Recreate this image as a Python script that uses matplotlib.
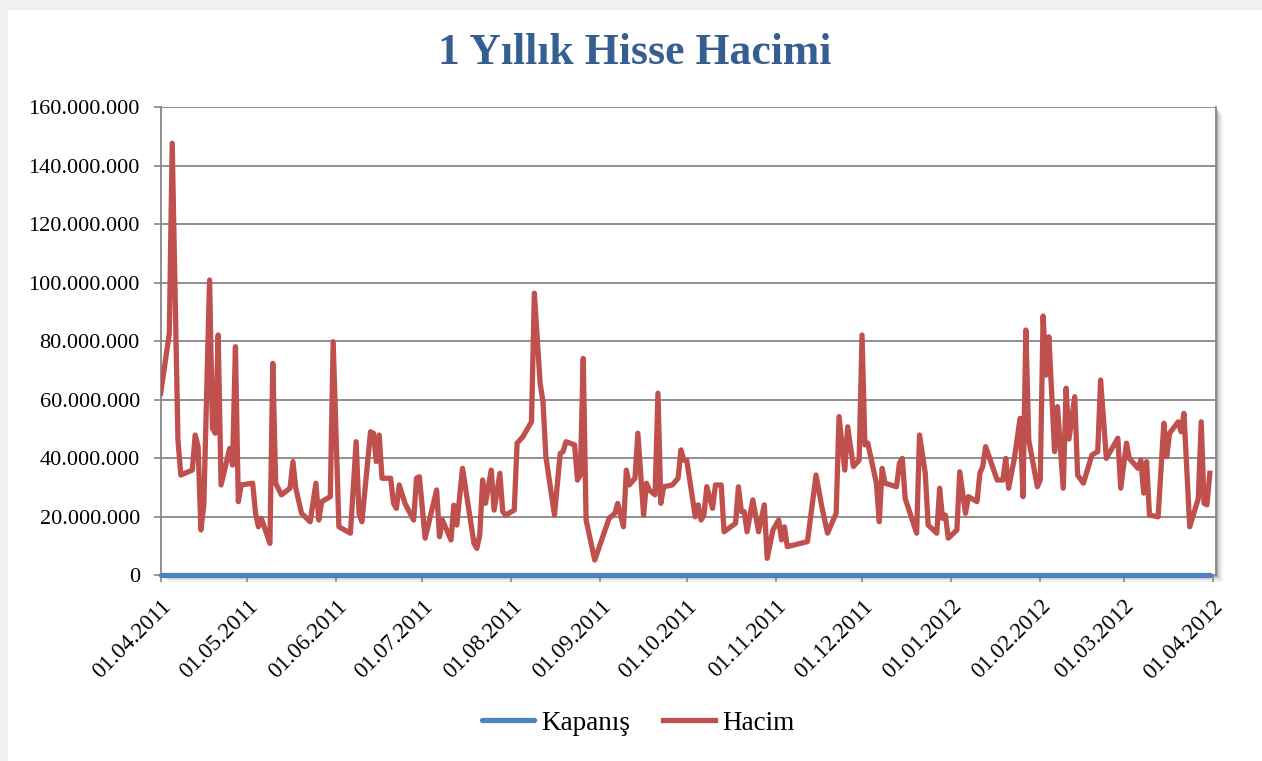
import numpy as np
import pandas as pd
import matplotlib
matplotlib.use('Agg')
import matplotlib.pyplot as plt
import matplotlib.dates as mdates
import matplotlib.ticker as mticker
from matplotlib.patches import Rectangle

# Hacim (milyon adet)
tarih = ['2011-04-01', '2011-04-04', '2011-04-05', '2011-04-07', '2011-04-08', '2011-04-12', '2011-04-13',
         '2011-04-14', '2011-04-15', '2011-04-16', '2011-04-18', '2011-04-19', '2011-04-20', '2011-04-21',
         '2011-04-22', '2011-04-25', '2011-04-26', '2011-04-27', '2011-04-28', '2011-04-29', '2011-05-03',
         '2011-05-04', '2011-05-05', '2011-05-06', '2011-05-09', '2011-05-10', '2011-05-11', '2011-05-13',
         '2011-05-16', '2011-05-17', '2011-05-18', '2011-05-20', '2011-05-23', '2011-05-25', '2011-05-26',
         '2011-05-27', '2011-05-30', '2011-05-31', '2011-06-02', '2011-06-06', '2011-06-08', '2011-06-09',
         '2011-06-10', '2011-06-13', '2011-06-14', '2011-06-15', '2011-06-16', '2011-06-17', '2011-06-20',
         '2011-06-21', '2011-06-22', '2011-06-23', '2011-06-25', '2011-06-28', '2011-06-29', '2011-06-30',
         '2011-07-02', '2011-07-06', '2011-07-07', '2011-07-08', '2011-07-11', '2011-07-12', '2011-07-13',
         '2011-07-15', '2011-07-19', '2011-07-20', '2011-07-21', '2011-07-22', '2011-07-23', '2011-07-25',
         '2011-07-26', '2011-07-28', '2011-07-29', '2011-07-30', '2011-08-02', '2011-08-03', '2011-08-05',
         '2011-08-08', '2011-08-09', '2011-08-11', '2011-08-12', '2011-08-13', '2011-08-16', '2011-08-18',
         '2011-08-19', '2011-08-20', '2011-08-23', '2011-08-24', '2011-08-25', '2011-08-26', '2011-08-27',
         '2011-08-30', '2011-09-04', '2011-09-06', '2011-09-07', '2011-09-09', '2011-09-10', '2011-09-11',
         '2011-09-13', '2011-09-14', '2011-09-16', '2011-09-17', '2011-09-18', '2011-09-20', '2011-09-21',
         '2011-09-22', '2011-09-23', '2011-09-26', '2011-09-28', '2011-09-29', '2011-09-30', '2011-10-01',
         '2011-10-04', '2011-10-05', '2011-10-06', '2011-10-07', '2011-10-08', '2011-10-10', '2011-10-11',
         '2011-10-13', '2011-10-14', '2011-10-18', '2011-10-19', '2011-10-20', '2011-10-21', '2011-10-22',
         '2011-10-24', '2011-10-26', '2011-10-28', '2011-10-29', '2011-10-31', '2011-11-02', '2011-11-03',
         '2011-11-04', '2011-11-05', '2011-11-12', '2011-11-15', '2011-11-17', '2011-11-19', '2011-11-22',
         '2011-11-23', '2011-11-25', '2011-11-26', '2011-11-28', '2011-11-30', '2011-12-01', '2011-12-02',
         '2011-12-03', '2011-12-06', '2011-12-07', '2011-12-08', '2011-12-09', '2011-12-13', '2011-12-14',
         '2011-12-15', '2011-12-16', '2011-12-20', '2011-12-21', '2011-12-23', '2011-12-24', '2011-12-27',
         '2011-12-28', '2011-12-29', '2011-12-30', '2011-12-31', '2012-01-03', '2012-01-04', '2012-01-06',
         '2012-01-07', '2012-01-10', '2012-01-11', '2012-01-12', '2012-01-13', '2012-01-17', '2012-01-19',
         '2012-01-20', '2012-01-21', '2012-01-23', '2012-01-25', '2012-01-26', '2012-01-27', '2012-01-28',
         '2012-01-31', '2012-02-01', '2012-02-02', '2012-02-03', '2012-02-04', '2012-02-06', '2012-02-07',
         '2012-02-09', '2012-02-10', '2012-02-11', '2012-02-13', '2012-02-14', '2012-02-16', '2012-02-19',
         '2012-02-21', '2012-02-22', '2012-02-24', '2012-02-28', '2012-02-29', '2012-03-02', '2012-03-03',
         '2012-03-06', '2012-03-07', '2012-03-08', '2012-03-09', '2012-03-10', '2012-03-13', '2012-03-15',
         '2012-03-16', '2012-03-17', '2012-03-20', '2012-03-21', '2012-03-22', '2012-03-24', '2012-03-27',
         '2012-03-28', '2012-03-29', '2012-03-30', '2012-03-31']

hacim_mn = [62.2, 82.7, 147.7, 46.2, 34.2, 35.9, 47.9,
            43.9, 15.4, 24.0, 100.9, 50.2, 48.5, 82.1,
            30.8, 43.3, 37.6, 78.1, 25.1, 30.8, 31.4,
            21.1, 16.5, 19.4, 10.8, 72.4, 31.4, 27.4,
            29.7, 38.8, 29.7, 21.1, 18.2, 31.4, 18.8,
            25.1, 26.8, 79.8, 16.5, 14.3, 45.6, 21.1,
            18.2, 49.0, 48.5, 38.8, 47.9, 33.1, 33.1,
            24.5, 22.8, 30.8, 24.5, 18.8, 33.1, 33.6,
            12.6, 29.1, 13.1, 18.8, 12.0, 23.9, 17.1,
            36.5, 10.8, 9.1, 13.7, 32.5, 24.5, 35.9,
            22.2, 34.8, 21.7, 20.5, 22.2, 45.1, 47.3,
            52.4, 96.4, 65.6, 59.3, 40.5, 20.5, 41.6,
            42.2, 45.6, 44.5, 32.5, 34.2, 74.1, 18.8,
            5.1, 19.4, 21.1, 24.5, 16.5, 35.9, 30.8,
            33.1, 48.5, 20.5, 31.4, 29.1, 27.4, 62.2,
            24.5, 30.2, 30.8, 33.1, 42.8, 39.3, 39.3,
            19.9, 24.0, 18.8, 20.5, 30.2, 22.8, 30.8,
            30.8, 14.8, 17.7, 30.2, 21.7, 21.7, 14.8,
            25.7, 14.8, 24.0, 5.7, 15.4, 18.8, 12.0,
            16.5, 9.7, 11.4, 34.2, 23.4, 14.3, 21.1,
            54.2, 35.9, 50.7, 37.1, 39.3, 82.1, 44.5,
            45.1, 31.4, 18.2, 36.5, 31.4, 30.2, 38.2,
            39.9, 26.2, 14.3, 47.9, 34.8, 17.1, 14.3,
            29.7, 19.4, 20.5, 12.6, 15.4, 35.3, 21.1,
            26.8, 25.1, 34.8, 37.1, 43.9, 32.5, 32.5,
            39.9, 29.7, 39.9, 53.6, 26.8, 83.8, 46.2,
            30.2, 32.5, 88.6, 68.4, 81.5, 42.2, 57.6,
            29.7, 63.9, 46.5, 61.0, 34.2, 31.4, 41.1,
            42.2, 66.7, 39.9, 46.8, 29.7, 45.1, 39.9,
            36.5, 39.3, 28.0, 38.8, 20.5, 19.9, 51.9,
            40.5, 48.5, 52.4, 49.0, 55.3, 16.5, 26.2,
            52.4, 24.5, 24.0, 34.8]

# Kapanis fiyati (TL) - hacim yaninda sifir cizgisi gibi gorunuyor
kapanis_tarih = ['2011-04-01', '2011-05-02', '2011-06-01', '2011-07-01', '2011-08-01', '2011-09-01',
                 '2011-10-03', '2011-11-01', '2011-12-01', '2012-01-02', '2012-02-01', '2012-03-01',
                 '2012-03-31']
kapanis = [4.1, 4.0, 3.8, 3.9, 3.5, 3.3, 3.4, 3.6, 3.2, 3.1, 3.6, 3.7, 3.8]

plt.rcParams['font.family'] = ['Liberation Serif', 'DejaVu Serif']

W, H = 1262, 761
fig = plt.figure(figsize=(W / 100, H / 100), dpi=100, facecolor='#f0f0f0')
fig.patches.append(Rectangle((8 / W, 0), 1, 1 - 10 / H, transform=fig.transFigure,
                             facecolor='white', edgecolor='none', zorder=-5))

# plot area (pixel olculeri)
x0, x1, ytop, ybot = 160.7, 1216, 107.3, 575
pos = [x0 / W, 1 - ybot / H, (x1 - x0) / W, (ybot - ytop) / H]

# golge
for off, a in [(7, 0.05), (5, 0.07), (3, 0.10), (1.5, 0.12)]:
    fig.patches.append(Rectangle((pos[0] + off / W, pos[1] - off / H), pos[2], pos[3],
                                 transform=fig.transFigure, facecolor='black', alpha=a,
                                 edgecolor='none', zorder=-4))

ax = fig.add_axes(pos, facecolor='white')

ax.plot(pd.to_datetime(kapanis_tarih), kapanis, color='#4F81BD', lw=3.8,
        label='Kapanış', clip_on=False, solid_capstyle='round', zorder=3)
ax.plot(pd.to_datetime(tarih), np.array(hacim_mn) * 1e6, color='#C0504D', lw=3.8,
        label='Hacim', solid_joinstyle='round', zorder=4)

ax.set_ylim(0, 160e6)
ax.yaxis.set_major_locator(mticker.MultipleLocator(20e6))
ax.yaxis.set_major_formatter(mticker.FuncFormatter(lambda v, p: f'{int(v):,}'.replace(',', '.')))
ax.yaxis.grid(True, color='#878787', lw=1.3)
ax.set_axisbelow(True)

start = mdates.date2num(pd.Timestamp('2011-04-01'))
end = mdates.date2num(pd.Timestamp('2012-04-01'))
ax.set_xlim(start, start + (end - start) * (x1 - x0) / (1212.7 - x0))
ax.xaxis.set_major_locator(mdates.MonthLocator(bymonthday=1))
ax.xaxis.set_major_formatter(mdates.DateFormatter('%d.%m.%Y'))

for s in ['left', 'bottom', 'right']:
    ax.spines[s].set_color('#878787')
    ax.spines[s].set_linewidth(1.3)
ax.spines['top'].set_visible(False)

ax.tick_params(axis='both', colors='#878787', width=1.2, length=5, labelcolor='black')
ax.tick_params(axis='y', pad=10, labelsize=16)
ax.tick_params(axis='x', pad=10, labelsize=16.5)
plt.setp(ax.get_xticklabels(), rotation=45, ha='right', va='top', rotation_mode='anchor')

fig.text(0.503, 1 - 53 / H, '1 Yıllık Hisse Hacimi', ha='center', va='center',
         fontsize=31.5, fontweight='bold', color='#365F91')

fig.legend(loc='center', bbox_to_anchor=(0.506, 1 - 723 / H), ncol=2, frameon=False,
           fontsize=19.5, handlelength=1.9, handletextpad=0.3, columnspacing=1.2)

fig.savefig('out.png', dpi=100, facecolor=fig.get_facecolor())
